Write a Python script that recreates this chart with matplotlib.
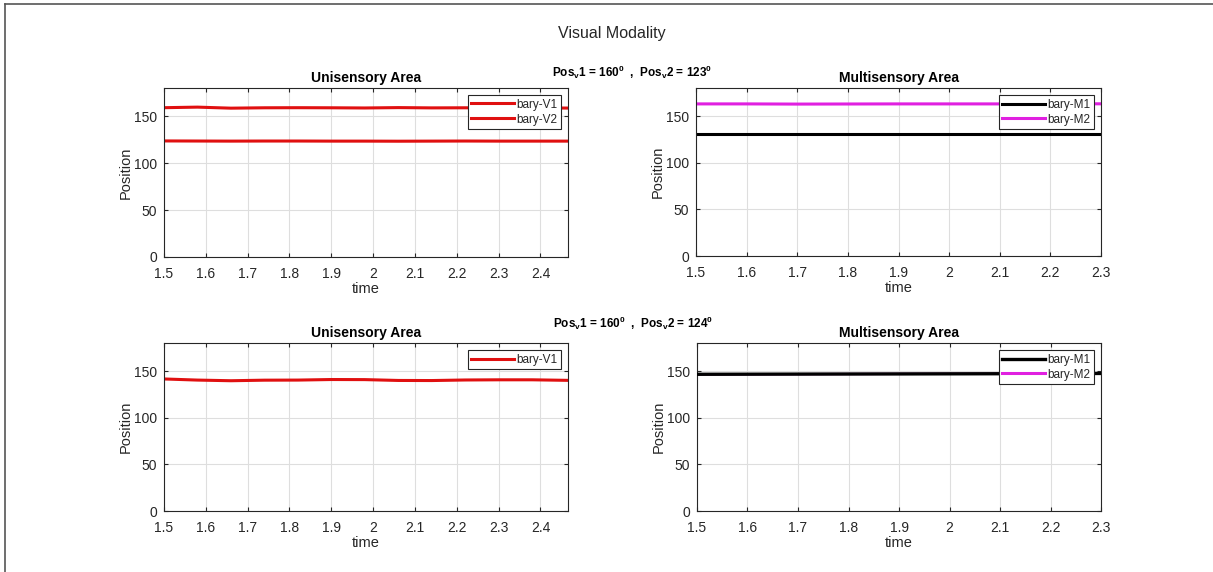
import matplotlib.pyplot as plt
from matplotlib.lines import Line2D
from matplotlib.ticker import FormatStrFormatter

plt.rcParams['font.family'] = ['Liberation Sans', 'DejaVu Sans']
plt.rcParams['mathtext.fontset'] = 'custom'
plt.rcParams['mathtext.rm'] = 'Liberation Sans:bold'
plt.rcParams['mathtext.it'] = 'Liberation Sans:bold'
plt.rcParams['mathtext.default'] = 'rm'

# time samples for the unisensory and multisensory runs
t_uni = [1.50, 1.58, 1.66, 1.74, 1.82, 1.90, 1.98, 2.06, 2.14, 2.22, 2.30, 2.38, 2.466]
t_multi = [1.50, 1.60, 1.70, 1.80, 1.90, 2.00, 2.10, 2.20, 2.30]

# run 1: Pos_v1 = 160, Pos_v2 = 123
v1_run1 = [159.0, 159.6, 158.5, 158.9, 159.0, 158.9, 158.7, 159.1, 158.8, 158.9, 158.7, 158.8, 158.6]
v2_run1 = [123.6, 123.5, 123.4, 123.5, 123.5, 123.4, 123.4, 123.3, 123.4, 123.5, 123.4, 123.4, 123.4]
m1_run1 = [131.0, 131.0, 131.0, 131.0, 131.0, 131.0, 131.0, 131.0, 131.0]
m2_run1 = [163.0, 163.0, 162.8, 162.9, 163.0, 163.0, 163.0, 163.1, 163.1]

# run 2: Pos_v1 = 160, Pos_v2 = 124
v1_run2 = [141.5, 140.3, 139.6, 140.2, 140.3, 140.9, 140.8, 139.9, 139.8, 140.4, 140.6, 140.6, 140.0]
m1_run2 = [146.5, 146.6, 146.7, 146.8, 146.9, 147.0, 147.1, 147.2, 147.4]
m2_run2 = [146.5, 146.6, 146.7, 146.8, 146.9, 147.0, 147.1, 147.2, 147.4]

uni_ticks = [1.5, 1.6, 1.7, 1.8, 1.9, 2.0, 2.1, 2.2, 2.3, 2.4]
multi_ticks = [1.5, 1.6, 1.7, 1.8, 1.9, 2.0, 2.1, 2.2, 2.3]

run_titles = [r'Pos$_v$1 = 160$^0$  ,  Pos$_v$2 = 123$^0$',
              r'Pos$_v$1 = 160$^0$  ,  Pos$_v$2 = 124$^0$']

RED = '#e01010'
MAG = '#e020e0'
INK = '#262626'


def style(ax, xmax, ticks, title):
    ax.set_xlim(1.5, xmax)
    ax.set_ylim(0, 180)
    ax.set_xticks(ticks)
    ax.set_yticks([0, 50, 100, 150])
    ax.xaxis.set_major_formatter(FormatStrFormatter('%g'))
    ax.set_title(title, fontsize=10, fontweight='bold', pad=4)
    ax.set_xlabel('time', fontsize=10.5, color=INK, labelpad=1)
    ax.set_ylabel('Position', fontsize=10.5, color=INK, labelpad=1)
    ax.grid(True, color='#dedede', linewidth=0.8)
    ax.set_axisbelow(True)
    ax.tick_params(direction='in', top=True, right=True, length=3,
                   labelsize=10, labelcolor=INK, color=INK)
    ax.tick_params(axis='x', pad=7)
    ax.tick_params(axis='y', pad=5)
    for s in ax.spines.values():
        s.set_color(INK)
        s.set_linewidth(0.8)


def legend(ax, handles=None, labels=None):
    if handles is None:
        handles, labels = ax.get_legend_handles_labels()
    leg = ax.legend(handles, labels, loc='upper right', fontsize=8.5, fancybox=False,
                    framealpha=1, edgecolor=INK, handlelength=3.6, handletextpad=0.2,
                    borderpad=0.3, labelspacing=0.25, borderaxespad=0.6)
    leg.get_frame().set_linewidth(0.8)
    for txt in leg.get_texts():
        txt.set_color(INK)


fig = plt.figure(figsize=(12.13, 5.72), dpi=100)

ax1 = fig.add_axes([0.1352, 0.5507, 0.3331, 0.2955])
ax1.plot(t_uni, v1_run1, color=RED, lw=2.2, label='bary-V1')
ax1.plot(t_uni, v2_run1, color=RED, lw=2.2, label='bary-V2')
style(ax1, 2.466, uni_ticks, 'Unisensory Area')
legend(ax1)

ax2 = fig.add_axes([0.5738, 0.5524, 0.3339, 0.2937])
ax2.plot(t_multi, m1_run1, color='black', lw=2.2, label='bary-M1')
ax2.plot(t_multi, m2_run1, color=MAG, lw=2.2, label='bary-M2')
style(ax2, 2.3, multi_ticks, 'Multisensory Area')
legend(ax2)

ax3 = fig.add_axes([0.1352, 0.1066, 0.3331, 0.2937])
ax3.plot(t_uni, v1_run2, color=RED, lw=2.2, label='bary-V1')
style(ax3, 2.466, uni_ticks, 'Unisensory Area')
legend(ax3)

ax4 = fig.add_axes([0.5746, 0.1066, 0.3331, 0.2937])
ln_m2, = ax4.plot(t_multi, m2_run2, color=MAG, lw=1.6, label='bary-M2', zorder=2)
ln_m1, = ax4.plot(t_multi, m1_run2, color='black', lw=2.4, label='bary-M1', zorder=3)
style(ax4, 2.3, multi_ticks, 'Multisensory Area')
legend(ax4, [ln_m1, Line2D([], [], color=MAG, lw=2.2)], ['bary-M1', 'bary-M2'])

fig.text(0.504, 0.942, 'Visual Modality', ha='center', va='center', fontsize=11.5, color=INK)
fig.text(0.521, 0.874, run_titles[0], ha='center', va='center', fontsize=8.5, fontweight='bold')
fig.text(0.522, 0.435, run_titles[1], ha='center', va='center', fontsize=8.5, fontweight='bold')

# frame edges on the left and top
fig.add_artist(Line2D([0.0045, 0.0045], [0.0, 0.993], color='#555555', lw=1.2))
fig.add_artist(Line2D([0.0045, 1.0], [0.993, 0.993], color='#555555', lw=1.2))

fig.savefig('out.png', dpi=100)
